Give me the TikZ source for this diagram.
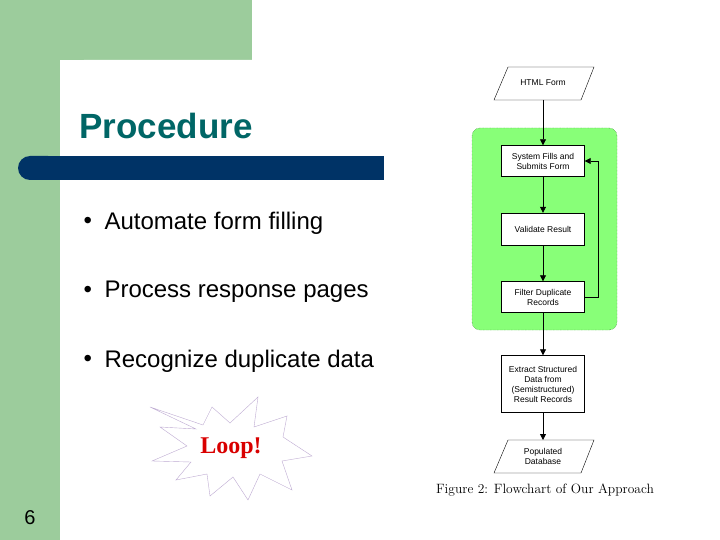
\documentclass[tikz,border=0pt]{standalone}
\usepackage{fontspec}
\setmainfont{Liberation Sans}
\newfontfamily\serifx{Liberation Serif}
\newfontfamily\lmx{Latin Modern Roman}
\usetikzlibrary{arrows.meta,shapes.geometric}
\definecolor{sage}{RGB}{156,204,156}
\definecolor{navy}{RGB}{0,51,102}
\definecolor{teal2}{RGB}{0,102,102}
\definecolor{lgreen}{RGB}{136,255,120}
\definecolor{dgreen}{RGB}{40,110,40}
\definecolor{starline}{RGB}{190,170,210}
\begin{document}
\begin{tikzpicture}[x=1pt,y=-1pt,
  bul/.style={anchor=west,font=\fontsize{24}{26}\selectfont},
  box/.style={draw,fill=white,minimum width=83pt,align=center,font=\fontsize{8.5}{10}\selectfont,inner sep=1pt},
  io/.style={minimum width=60pt,minimum height=33pt,align=center,font=\fontsize{8.5}{10}\selectfont},
  arr/.style={-{Triangle[length=6pt,width=6pt]},thick}]
\useasboundingbox (0,0) rectangle (720,540);
\fill[white] (0,0) rectangle (720,540);
\fill[sage] (0,0) rectangle (252,60);
\fill[sage] (0,0) rectangle (60,540);
\fill[white] (60,540) -- (60,84) to[out=-90,in=180] (84,60) -- (260,60) -- (260,540) -- cycle;
\fill[navy,rounded corners=12pt] (18,156) rectangle (60,180);
\fill[navy] (40,156) rectangle (384,180);
\node[anchor=west,text=teal2,font=\bfseries\fontsize{35}{38}\selectfont] (title) at (76,126) {Procedure};
\node[bul] (b1) at (80,223) {\textbullet};
\node[bul] (t1) at (101,223) {Automate form filling};
\node[bul] (b2) at (80,292) {\textbullet};
\node[bul] (t2) at (101,292) {Process response pages};
\node[bul] (b3) at (80,361) {\textbullet};
\node[bul] (t3) at (101,361) {Recognize duplicate data};
\node[font=\fontsize{20}{22}\selectfont] (num) at (30,518) {6};
% star
\draw[starline,fill=white] (150,407) -- (203,425) -- (212,407) -- (230,423) -- (258,397) -- (254,427) -- (287,416) -- (283,437) -- (312,456) -- (282,461) -- (292,490) -- (260,474) -- (248,500) -- (233,477) -- (210,496) -- (207,474) -- (176,480) -- (191,462) -- (152,461) -- (187,446) -- (160,427) -- (196,429) -- cycle;
\node[text=red!85!black,font=\serifx\bfseries\fontsize{24}{26}\selectfont] (loop) at (231,448) {Loop!};
% flowchart
\fill[lgreen,rounded corners=8pt] (472,128) rectangle (617,330);
\draw[dgreen,densely dotted,rounded corners=8pt] (472,128) rectangle (617,330);
\draw (508,67) -- (594,67) -- (581,100) -- (494,100) -- cycle;
\node[io] (html) at (543,83) {HTML Form};
\node[box,minimum height=31pt] (s1) at (543,161) {System Fills and\\Submits Form};
\node[box,minimum height=32pt] (s2) at (543,229) {Validate Result};
\node[box,minimum height=31pt] (s3) at (543,297) {Filter Duplicate\\Records};
\node[box,minimum height=57pt] (s4) at (543,384) {Extract Structured\\Data from\\(Semistructured)\\Result Records};
\draw (508,440) -- (594,440) -- (581,473) -- (494,473) -- cycle;
\node[io] (db) at (543,456) {Populated\\Database};
\draw[arr] (543,100) -- (s1);
\draw[arr] (s1) -- (s2);
\draw[arr] (s2) -- (s3);
\draw[arr] (s3) -- (s4);
\draw[arr] (s4) -- (543,440);
\coordinate (lp) at (598,297);
\coordinate (lq) at (598,161);
\draw[arr] (s3.east) -- (lp) -- (lq) -- (s1.east);
\node[font=\lmx\fontsize{13.5}{15}\selectfont] (cap) at (545,490) {Figure 2: Flowchart of Our Approach};
\end{tikzpicture}
\end{document}
